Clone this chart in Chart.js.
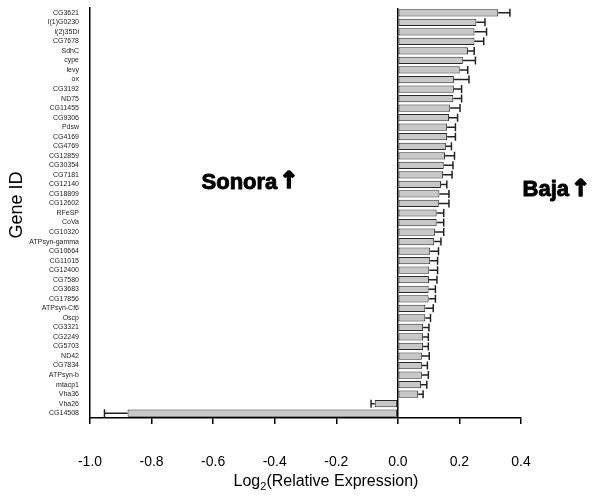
<!DOCTYPE html>
<html>
<head>
<meta charset="utf-8">
<script src="https://cdn.jsdelivr.net/npm/chart.js@4"></script>
<style>
  html, body { margin: 0; padding: 0; background: #fff; }
  #wrap { width: 600px; height: 497px; }
</style>
</head>
<body>
<div id="wrap"><canvas id="geneChart" width="600" height="497"></canvas></div>
<script>
        // gene ids, top to bottom
        const genes = ["CG3621", "l(1)G0230", "l(2)35Di", "CG7678", "SdhC", "cype", "levy", "ox",
            "CG3192", "ND75", "CG11455", "CG9306", "Pdsw", "CG4169", "CG4769", "CG12859",
            "CG30354", "CG7181", "CG12140", "CG18809", "CG12602", "RFeSP", "CoVa", "CG10320",
            "ATPsyn-gamma", "CG10664", "CG11015", "CG12400", "CG7580", "CG3683", "CG17856",
            "ATPsyn-Cf6", "Oscp", "CG3321", "CG2249", "CG5703", "ND42", "CG7834", "ATPsyn-b",
            "mtacp1", "Vha36", "Vha26", "CG14508"];

        // log2 relative expression
        const logExpr = [0.326, 0.255, 0.249, 0.249, 0.228, 0.211, 0.201, 0.182, 0.182, 0.180,
            0.170, 0.166, 0.160, 0.160, 0.156, 0.153, 0.149, 0.147, 0.140, 0.135, 0.133, 0.126,
            0.126, 0.121, 0.118, 0.105, 0.105, 0.102, 0.101, 0.100, 0.100, 0.089, 0.089, 0.082,
            0.082, 0.082, 0.078, 0.078, 0.078, 0.075, 0.066, -0.075, -0.878];

        // error bar length (one side)
        const errLen = [0.038, 0.028, 0.039, 0.030, 0.020, 0.041, 0.026, 0.049, 0.025, 0.027,
            0.032, 0.028, 0.027, 0.027, 0.018, 0.031, 0.030, 0.029, 0.019, 0.031, 0.033, 0.023,
            0.023, 0.028, 0.022, 0.027, 0.024, 0.027, 0.026, 0.022, 0.022, 0.026, 0.017, 0.019,
            0.017, 0.017, 0.024, 0.018, 0.021, 0.019, 0.016, 0.012, 0.075];

        const xTicks = [-1.0, -0.8, -0.6, -0.4, -0.2, 0.0, 0.2, 0.4];

        // error bars with caps
        const errorBars = {
            id: "errorBars",
            afterDatasetsDraw(chart) {
                const ctx = chart.ctx;
                const x = chart.scales.x, y = chart.scales.y;
                ctx.save();
                ctx.strokeStyle = "#222";
                ctx.lineWidth = 1.5;
                logExpr.forEach((v, i) => {
                    const sign = v < 0 ? -1 : 1;
                    const x0 = x.getPixelForValue(v);
                    const x1 = x.getPixelForValue(v + sign * errLen[i]);
                    const yy = y.getPixelForValue(i);
                    ctx.beginPath();
                    ctx.moveTo(x0, yy);
                    ctx.lineTo(x1, yy);
                    ctx.moveTo(x1, yy - 4);
                    ctx.lineTo(x1, yy + 4);
                    ctx.stroke();
                });
                ctx.restore();
            }
        };

        // heavy word followed by a heavy up arrow, centred on (cx, cy)
        function heavyLabel(ctx, word, cx, cy) {
            const wordFont = 'bold 22px "Liberation Sans", Arial, sans-serif';
            const arrowFont = 'bold 23px "DejaVu Sans", sans-serif';
            ctx.font = wordFont;
            const ww = ctx.measureText(word).width;
            ctx.font = arrowFont;
            const wa = ctx.measureText("\u2191").width;
            let left = cx - (ww + wa + 2) / 2;
            ctx.textAlign = "left";
            ctx.textBaseline = "middle";
            ctx.lineJoin = "round";
            ctx.font = wordFont;
            ctx.lineWidth = 0.9;
            ctx.fillText(word, left, cy);
            ctx.strokeText(word, left, cy);
            ctx.font = arrowFont;
            ctx.lineWidth = 1.6;
            ctx.fillText("\u2191", left + ww + 2, cy);
            ctx.strokeText("\u2191", left + ww + 2, cy);
        }

        // labels: Sonora / Baja, axis titles
        const labelsPlugin = {
            id: "labelsPlugin",
            afterDraw(chart) {
                const ctx = chart.ctx;
                const x = chart.scales.x, y = chart.scales.y;
                ctx.save();
                ctx.fillStyle = "#000";
                ctx.strokeStyle = "#000";
                heavyLabel(ctx, "Sonora", x.getPixelForValue(-0.48), y.getPixelForValue(17.8));
                heavyLabel(ctx, "Baja", x.getPixelForValue(0.515), y.getPixelForValue(18.6));

                // Gene ID
                ctx.textAlign = "center";
                ctx.textBaseline = "middle";
                ctx.font = '18px "Liberation Sans", Arial, sans-serif';
                ctx.translate(17, 205);
                ctx.rotate(-Math.PI / 2);
                ctx.fillText("Gene ID", 0, 0);
                ctx.setTransform(1, 0, 0, 1, 0, 0);

                // Log2(Relative Expression) with subscript
                const big = '16px "Liberation Sans", Arial, sans-serif';
                const small = '11px "Liberation Sans", Arial, sans-serif';
                ctx.textAlign = "left";
                ctx.textBaseline = "alphabetic";
                ctx.font = big;
                const w1 = ctx.measureText("Log").width;
                const w3 = ctx.measureText("(Relative Expression)").width;
                ctx.font = small;
                const w2 = ctx.measureText("2").width;
                let cx = 326 - (w1 + w2 + w3) / 2;
                const base = 486;
                ctx.font = big;
                ctx.fillText("Log", cx, base);
                cx += w1;
                ctx.font = small;
                ctx.fillText("2", cx, base + 4);
                cx += w2;
                ctx.font = big;
                ctx.fillText("(Relative Expression)", cx, base);
                ctx.restore();
            }
        };

        new Chart(document.getElementById("geneChart"), {
            type: "bar",
            data: {
                labels: genes,
                datasets: [{
                    data: logExpr,
                    backgroundColor: "#c8c8c8",
                    borderColor: "#2a2a2a",
                    borderWidth: 1,
                    borderSkipped: false,
                    barPercentage: 0.76,
                    categoryPercentage: 1.0
                }]
            },
            plugins: [errorBars, labelsPlugin],
            options: {
                indexAxis: "y",
                responsive: false,
                animation: false,
                layout: {
                    padding: { top: 8, right: 79, left: 0, bottom: 0 }
                },
                plugins: {
                    legend: { display: false },
                    tooltip: { enabled: false }
                },
                scales: {
                    x: {
                        min: -1.0,
                        max: 0.4,
                        afterBuildTicks(scale) {
                            scale.ticks = xTicks.map(v => ({ value: v }));
                        },
                        afterFit(scale) {
                            scale.height = 79;
                        },
                        grid: {
                            color: c => (c.tick && Math.abs(c.tick.value) < 1e-9) ? "#000" : "rgba(0,0,0,0)",
                            lineWidth: 1.5,
                            tickColor: "#000",
                            tickLength: 6
                        },
                        border: { display: true, color: "#000", width: 1.5 },
                        ticks: {
                            color: "#000",
                            padding: 30,
                            font: { family: '"Liberation Sans", Arial, sans-serif', size: 14 },
                            callback: v => v.toFixed(1).replace("-0.0", "0.0")
                        }
                    },
                    y: {
                        afterFit(scale) {
                            scale.width = 90;
                        },
                        grid: { display: false },
                        border: { display: true, color: "#000", width: 1.5 },
                        ticks: {
                            autoSkip: false,
                            color: "#222",
                            padding: 3,
                            font: { family: '"Liberation Sans", Arial, sans-serif', size: 7 }
                        }
                    }
                }
            }
        });
</script>
</body>
</html>
